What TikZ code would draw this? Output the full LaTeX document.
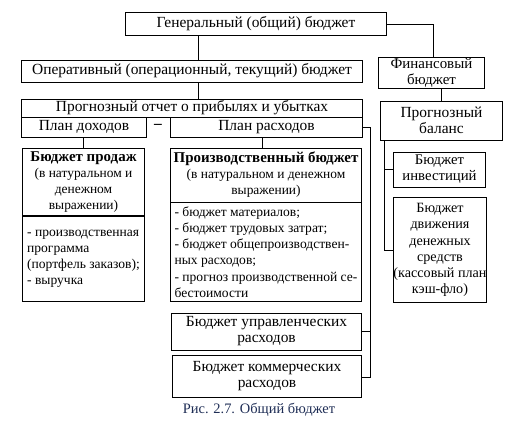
\documentclass[tikz,border=0pt]{standalone}
\usepackage{fontspec}
\setmainfont{Liberation Serif}
\usetikzlibrary{calc}
\definecolor{capcol}{RGB}{30,45,85}
\newcommand{\bx}[7][box]{%
  \node[#1, minimum width={(#5)-(#3)}, minimum height={(#6)-(#4)}] (#2) at ({((#3)+(#5))/2},{((#4)+(#6))/2}) {#7};}
\newcommand{\sub}{\fontsize{13.5}{16}\selectfont}
\newcommand{\ttl}{\bfseries\fontsize{15}{16}\selectfont}
\begin{document}
\begin{tikzpicture}[x=1bp,y=-1bp,
  box/.style={draw, line width=0.8pt, inner sep=0pt, align=center, font=\fontsize{15.5}{16}\selectfont},
  lbox/.style={box, align=left, font=\fontsize{13.6}{16.2}\selectfont},
  rbox/.style={box, font=\fontsize{14.2}{16.2}\selectfont},
  conn/.style={line width=0.8pt}]
\useasboundingbox (0,0) rectangle (512,424);
\bx{gen}{125}{12}{387}{35}{Генеральный (общий) бюджет}
\bx{oper}{21}{60}{363}{82}{Оперативный (операционный, текущий) бюджет}
\bx[rbox, font=\fontsize{15}{16}\selectfont]{fin}{378}{57}{485}{88}{Финансовый\\бюджет}
\bx{prog}{21}{99}{363}{117}{Прогнозный отчет о прибылях и убытках}
\bx{pd}{21}{117}{147}{137}{План доходов}
\bx{pr}{170}{117}{363}{137}{План расходов}
\node[font=\bfseries\fontsize{15.5}{16}\selectfont] (dash) at (158,126) {--};
\bx{bpa}{22}{148}{145}{216}{{\ttl Бюджет продаж}\\{\sub (в натуральном и}\\{\sub денежном}\\{\sub выражении)}}
\bx[lbox]{bpb}{22}{216}{145}{302}{- производственная\\программа\\(портфель заказов);\\- выручка}
\bx{pba}{170}{148}{362}{202}{{\ttl Производственный бюджет}\\{\sub (в натуральном и денежном}\\{\sub выражении)}}
\bx[lbox]{pbb}{170}{202}{362}{302}{- бюджет материалов;\\- бюджет трудовых затрат;\\- бюджет общепроизводствен-\\ных расходов;\\- прогноз производственной се-\\бестоимости}
\bx{upr}{171}{313}{362}{350}{Бюджет управленческих\\расходов}
\bx{kom}{172}{355}{362}{397}{Бюджет коммерческих\\расходов}
\bx{bal}{380}{101}{503}{140}{Прогнозный\\баланс}
\bx[rbox, font=\fontsize{14.8}{16.2}\selectfont]{inv}{393}{152}{486}{187}{Бюджет\\инвестиций}
\bx[rbox]{dv}{394}{197}{486}{303}{Бюджет\\движения\\денежных\\средств\\(кассовый план\\кэш-фло)}
\node[font=\fontsize{14.5}{15}\selectfont, text=capcol] (cap) at (259,410) {Рис. 2.7. Общий бюджет};
% helper coordinates
\coordinate (xa) at (198,0);
\coordinate (xb) at (83,0);
\coordinate (xc) at (262,0);
\coordinate (xd) at (441,0);
\coordinate (xe) at (384,0);
\coordinate (ra) at (433,24);
\coordinate (rb) at (370,127);
\coordinate (rc) at (370,377);
% connectors
\draw[conn] (gen.east |- ra) -- (ra) -- (ra |- fin.north);
\draw[conn] (gen.south -| xa) -- (oper.north -| xa);
\draw[conn] (oper.south -| xa) -- (prog.north -| xa);
\draw[conn] (pd.south -| xb) -- (bpa.north -| xb);
\draw[conn] (pr.south -| xc) -- (pba.north -| xc);
\draw[conn] (pr.east |- rb) -- (rb) -- (rc) -- (kom.east |- rc);
\draw[conn] (rb |- upr.east) -- (upr.east);
\draw[conn] (fin.south -| xd) -- (bal.north -| xd);
\draw[conn] (bal.south -| xe) -- (xe |- dv.west) -- (dv.west);
\draw[conn] (xe |- inv.west) -- (inv.west);
\end{tikzpicture}
\end{document}
